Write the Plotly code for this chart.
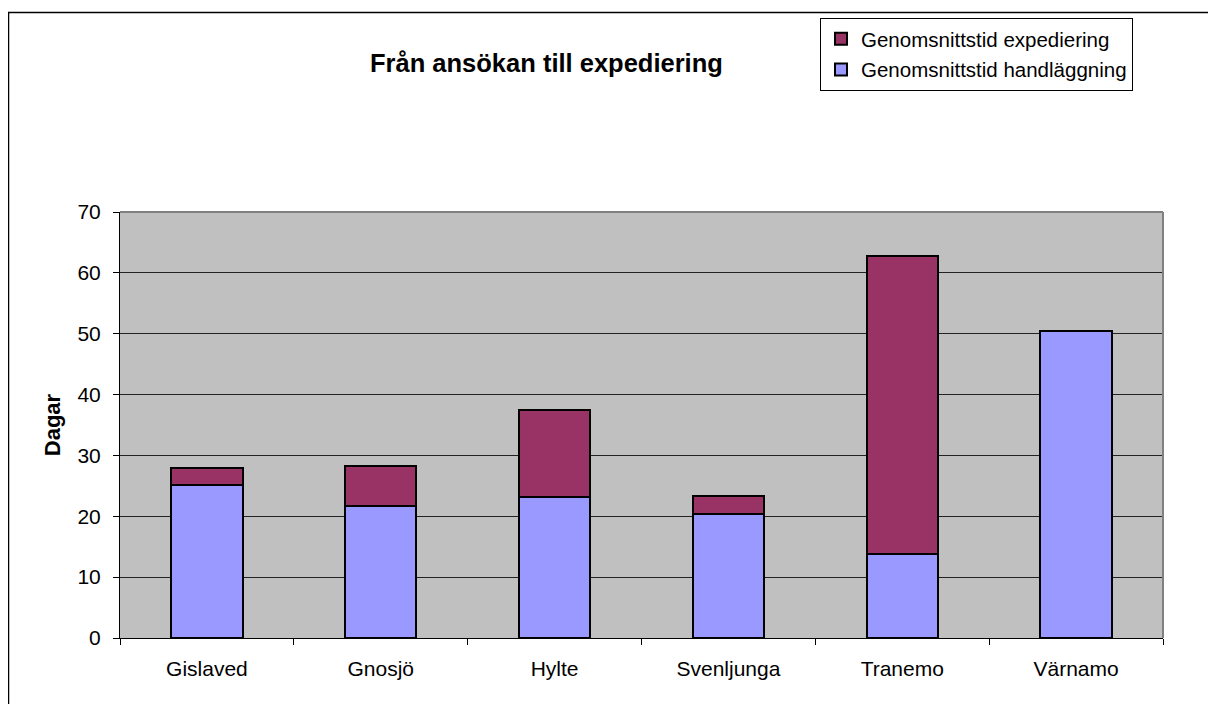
import plotly.graph_objects as go

categories = ["Gislaved", "Gnosjö", "Hylte", "Svenljunga", "Tranemo", "Värnamo"]
handlaggning = [25.2, 21.7, 23.2, 20.3, 13.8, 50.4]
expediering = [2.75, 6.6, 14.3, 3.1, 49.0, 0.0]
y_ticks = [0, 10, 20, 30, 40, 50, 60, 70]

FONT = "Liberation Sans, Arial, sans-serif"

fig = go.Figure()
fig.add_trace(go.Bar(
    x=categories, y=handlaggning, name="Genomsnittstid handläggning",
    legendgroup="h", legendrank=2,
    marker=dict(color="#9999FF", line=dict(color="black", width=2)),
))
fig.add_trace(go.Bar(
    x=categories, y=expediering, name="Genomsnittstid expediering",
    legendgroup="e", legendrank=1,
    marker=dict(color="#993366", line=dict(color="black", width=2)),
))

# the page body has an 8px margin, so the figure is offset by 8px
OFF = 8
W, H = 1216 - OFF, 704 - OFF
L, T = 120 - OFF, 211 - OFF
R = W - (1163 - OFF)
B = H - (638 - OFF)
pw, ph = W - L - R, H - T - B

def px(x):
    return (x - OFF - L) / pw

def py(y):
    return (H - B - (y - OFF)) / ph

fig.update_layout(
    width=W, height=H,
    margin=dict(l=L, r=R, t=T, b=B),
    barmode="stack", bargap=0.59,
    paper_bgcolor="white", plot_bgcolor="#C0C0C0",
    font=dict(family=FONT, size=21, color="black"),
    showlegend=True,
    legend=dict(
        traceorder="grouped",
        x=px(820), y=py(18), xanchor="left", yanchor="top",
        bordercolor="black", borderwidth=1, bgcolor="white",
        font=dict(size=20.5, family=FONT),
        itemwidth=30, tracegroupgap=1,
    ),
    annotations=[dict(
        text="<b>Från ansökan till expediering</b>",
        x=px(546), y=py(62), xref="paper", yref="paper",
        xanchor="center", yanchor="middle", showarrow=False,
        font=dict(size=25.5, family=FONT),
    )],
    shapes=[
        dict(type="line", xref="paper", yref="paper", x0=0, x1=1, y0=1, y1=1,
             line=dict(color="#808080", width=2)),
        dict(type="line", xref="paper", yref="paper", x0=1, x1=1, y0=0, y1=1,
             line=dict(color="#808080", width=2)),
        dict(type="line", xref="paper", yref="paper", x0=px(8.5), x1=px(8.5), y0=py(11), y1=py(720),
             line=dict(color="black", width=1.5)),
        dict(type="line", xref="paper", yref="paper", x0=px(8), x1=px(1230), y0=py(11), y1=py(11),
             line=dict(color="black", width=1.5)),
    ],
)

fig.update_yaxes(
    range=[0, 70], tickvals=y_ticks, ticktext=[str(v) for v in y_ticks],
    showgrid=True, gridcolor="#222222", gridwidth=1,
    showline=True, linecolor="black", linewidth=1,
    ticks="outside", ticklen=6, tickcolor="black", ticklabelstandoff=8,
    tickfont=dict(size=21, family=FONT), zeroline=False,
    title=dict(text="<b>Dagar</b>", font=dict(size=22, family=FONT), standoff=10),
)
fig.update_xaxes(
    showline=True, linecolor="black", linewidth=1,
    ticks="outside", ticklen=6, tickcolor="black", tickson="boundaries",
    ticklabelstandoff=12,
    tickfont=dict(size=21, family=FONT), showgrid=False,
)

fig.write_html("out.html")
